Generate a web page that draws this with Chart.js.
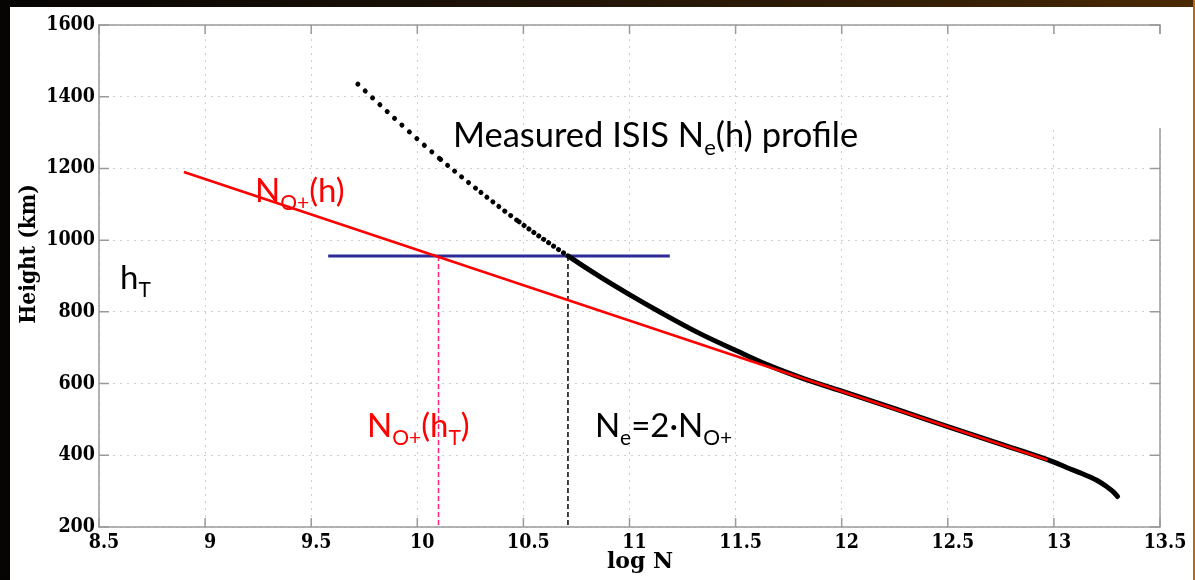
<!DOCTYPE html>
<html>
<head>
<meta charset="utf-8">
<script src="https://cdn.jsdelivr.net/npm/chart.js@4.4.1/dist/chart.umd.min.js"></script>
<style>
    html, body { margin: 0; padding: 0; }
    body {
        width: 1195px;
        height: 580px;
        overflow: hidden;
        position: relative;
        background: linear-gradient(to right, #060403 0%, #1c1208 40%, #3a2206 85%, #4a2a04 100%);
    }
    #panel { position: absolute; left: 10px; top: 7px; width: 1183px; height: 573px; background: #fff; }
    #edge { position: absolute; left: 1193px; top: 0; width: 2px; height: 580px; background: #c0680e; }
    #chart { position: absolute; left: 0; top: 0; }
</style>
</head>
<body>
<div id="panel"></div>
<div id="edge"></div>
<canvas id="chart" width="1195" height="580"></canvas>
<script>
// Axis ticks
const xTicks = [8.5, 9, 9.5, 10, 10.5, 11, 11.5, 12, 12.5, 13, 13.5];
const yTicks = [200, 400, 600, 800, 1000, 1200, 1400, 1600];

// Measured ISIS Ne(h) profile (log N, km)
const profileLogN = [9.72, 9.92, 10.11, 10.3, 10.48, 10.71, 10.86, 11.0, 11.16, 11.33, 11.51, 11.66, 11.82, 11.99, 12.25, 12.5, 12.75, 13.0, 13.06, 13.14, 13.2, 13.25, 13.28, 13.3];
const profileHeight = [1435, 1325, 1225, 1133, 1051, 956, 898, 848, 794, 740, 690, 650, 614, 581, 530, 480, 431, 381, 366, 347, 331, 312, 298, 285];

// O+ fit line
const oPlusLogN = [8.9, 12.97];
const oPlusHeight = [1190, 387];

// transition height hT
const transitionLogN = [9.58, 11.19];
const transitionHeight = [956, 956];

// drop lines at hT
const oPlusAtTLogN = [10.1, 10.1];
const oPlusAtTHeight = [956, 200];
const neAtTLogN = [10.71, 10.71];
const neAtTHeight = [956, 200];

const toPoints = (xs, ys) => xs.map((x, i) => ({ x: x, y: ys[i] }));

// text labels on the plot: [text, isSubscript]
const notes = [
    { x: 10.168, y: 1260, size: 34.5, color: '#000', parts: [['Measured ISIS N'], ['e', 1], ['(h) profile']] },
    { x: 9.235, y: 1106, size: 33, color: '#ff0000', parts: [['N'], ['O+', 1], ['(h)']] },
    { x: 8.599, y: 864, size: 33, color: '#000', parts: [['h'], ['T', 1]] },
    { x: 9.763, y: 451, size: 33, color: '#ff0000', parts: [['N'], ['O+', 1], ['(h'], ['T', 1], [')']] },
    { x: 10.837, y: 451, size: 33, color: '#000', parts: [['N'], ['e', 1], ['=2\u00b7N'], ['O+', 1]] }
];

// dotted look of the upper profile, dots get denser lower down
function profileDash(h) {
    if (h > 1300) return [0.01, 10];
    if (h > 1200) return [0.01, 9];
    if (h > 1100) return [0.01, 7.5];
    if (h > 1000) return [0.01, 6];
    if (h > 960) return [0.01, 4.5];
    return undefined;
}

function drawRich(ctx, x, y, parts, color, size) {
    ctx.fillStyle = color;
    ctx.textAlign = 'left';
    ctx.textBaseline = 'alphabetic';
    parts.forEach(p => {
        const sub = p[1];
        ctx.font = (sub ? Math.round(size * 0.64) : size) + 'px Lato';
        ctx.fillText(p[0], x, sub ? y + 8 : y);
        x += ctx.measureText(p[0]).width;
    });
}

const framePlugin = {
    id: 'frame',
    beforeDatasetsDraw(chart) {
        const { ctx, chartArea: a, scales } = chart;
        ctx.save();
        ctx.strokeStyle = '#9a9a9a';
        ctx.lineWidth = 1.5;
        ctx.beginPath();
        xTicks.forEach(v => {
            const px = scales.x.getPixelForValue(v);
            ctx.moveTo(px, a.bottom); ctx.lineTo(px, a.bottom - 9);
            ctx.moveTo(px, a.top); ctx.lineTo(px, a.top + 9);
        });
        yTicks.forEach(v => {
            const py = scales.y.getPixelForValue(v);
            ctx.moveTo(a.left, py); ctx.lineTo(a.left + 10, py);
            ctx.moveTo(a.right, py); ctx.lineTo(a.right - 10, py);
        });
        ctx.stroke();
        ctx.strokeRect(a.left, a.top, a.right - a.left, a.bottom - a.top);
        // white box pasted over the top right corner in the original slide
        ctx.fillStyle = '#fff';
        ctx.fillRect(951, 34, 215, 94);
        ctx.restore();
    },
    afterDatasetsDraw(chart) {
        const { ctx, scales } = chart;
        ctx.save();
        notes.forEach(n => {
            drawRich(ctx, scales.x.getPixelForValue(n.x), scales.y.getPixelForValue(n.y), n.parts, n.color, n.size);
        });
        // axis titles
        ctx.fillStyle = '#000';
        ctx.textAlign = 'center';
        ctx.textBaseline = 'middle';
        ctx.font = "bold 22px 'DejaVu Serif', serif";
        ctx.fillText('log N', 640, 562);
        ctx.translate(29, 254);
        ctx.rotate(-Math.PI / 2);
        ctx.font = "bold 22.5px 'DejaVu Serif Condensed', 'DejaVu Serif', serif";
        ctx.fillText('Height (km)', 0, 0);
        ctx.restore();
    }
};

const tickFont = { family: "'DejaVu Serif Condensed', 'DejaVu Serif', serif", weight: 'bold', size: 19.5 };

new Chart(document.getElementById('chart'), {
    type: 'line',
    data: {
        datasets: [
            {
                label: 'NO+(h)',
                data: toPoints(oPlusLogN, oPlusHeight),
                borderColor: '#ff0000',
                borderWidth: 2.5
            },
            {
                label: 'Measured ISIS Ne(h) profile',
                data: toPoints(profileLogN, profileHeight),
                borderColor: '#000000',
                borderWidth: 5,
                borderCapStyle: 'round',
                cubicInterpolationMode: 'monotone',
                segment: {
                    borderDash: ctx => profileDash(ctx.p0.parsed.y)
                }
            },
            {
                label: 'hT',
                data: toPoints(transitionLogN, transitionHeight),
                borderColor: '#2e2a96',
                borderWidth: 3
            },
            {
                label: 'NO+(hT)',
                data: toPoints(oPlusAtTLogN, oPlusAtTHeight),
                borderColor: '#ff1f78',
                borderWidth: 1.5,
                borderDash: [5, 3]
            },
            {
                label: 'Ne=2NO+',
                data: toPoints(neAtTLogN, neAtTHeight),
                borderColor: '#000000',
                borderWidth: 1.5,
                borderDash: [5, 3]
            }
        ]
    },
    options: {
        responsive: false,
        animation: false,
        layout: { padding: { top: 25, right: 35, left: 0, bottom: 0 } },
        elements: { point: { radius: 0 }, line: { fill: false } },
        plugins: {
            legend: { display: false },
            tooltip: { enabled: false }
        },
        scales: {
            x: {
                type: 'linear',
                min: 8.5,
                max: 13.5,
                afterBuildTicks: s => { s.ticks = xTicks.map(v => ({ value: v })); },
                afterFit: s => { s.height = 53; },
                grid: { color: '#cfcfcf', lineWidth: 1, drawTicks: false },
                border: { display: false, dash: [2, 5] },
                ticks: {
                    color: '#000',
                    font: tickFont,
                    padding: 4,
                    labelOffset: 5,
                    maxRotation: 0,
                    autoSkip: false,
                    callback: v => String(v)
                }
            },
            y: {
                type: 'linear',
                min: 200,
                max: 1600,
                afterBuildTicks: s => { s.ticks = yTicks.map(v => ({ value: v })); },
                afterFit: s => { s.width = 99; },
                grid: { color: '#cfcfcf', lineWidth: 1, drawTicks: false },
                border: { display: false, dash: [2, 5] },
                ticks: {
                    color: '#000',
                    font: tickFont,
                    padding: 4,
                    autoSkip: false,
                    callback: v => String(v)
                }
            }
        }
    },
    plugins: [framePlugin]
});
</script>
</body>
</html>
